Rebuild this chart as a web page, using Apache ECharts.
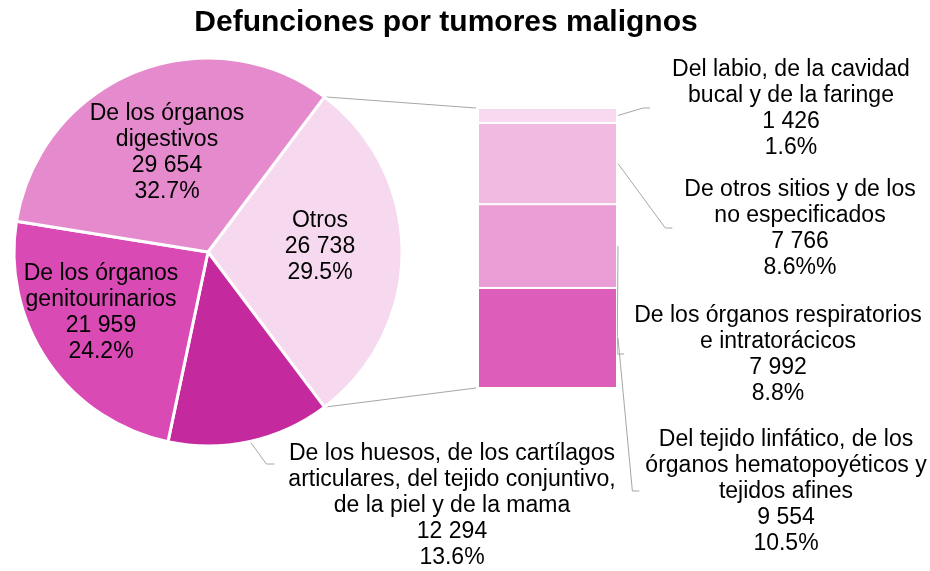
<!DOCTYPE html>
<html>
<head>
<meta charset="utf-8">
<script src="https://cdn.jsdelivr.net/npm/echarts@6/dist/echarts.min.js"></script>
<style>
html, body { margin: 0; padding: 0; background: #fff; }
#main { width: 930px; height: 571px; }
</style>
</head>
<body>
<div id="main"></div>
<script>
// pie: Otros first so it sits centred on the right side
var pieNames = ['Otros',
  'De los huesos, de los cartílagos\narticulares, del tejido conjuntivo,\nde la piel y de la mama',
  'De los órganos\ngenitourinarios',
  'De los órganos\ndigestivos'];
var pieValues = [26738, 12294, 21959, 29654];
var piePct = ['29.5%', '13.6%', '24.2%', '32.7%'];
var pieColors = ['#F7D9EF', '#C42A9D', '#D94AB4', '#E58BCD'];

// stacked bar breakdown of "Otros", bottom to top
var barNames = ['Del tejido linfático, de los\nórganos hematopoyéticos y\ntejidos afines',
  'De los órganos respiratorios\ne intratorácicos',
  'De otros sitios y de los\nno especificados',
  'Del labio, de la cavidad\nbucal y de la faringe'];
var barValues = [9554, 7992, 7766, 1426];
var barPct = ['10.5%', '8.8%', '8.6%%', '1.6%'];
var barColors = ['#DD5DBB', '#EA9DD5', '#F1BAE1', '#F8DAF0'];

// layout
var pieCenter = [208, 252], pieRadius = 194;
var pieLabelPos = [[320, 247], [452, 506], [101, 313], [167, 153]];
var barBox = { left: 478, top: 108, width: 139, height: 280 };
var barLabelPos = [[786, 492], [778, 355], [800, 229], [791, 109]];
var barLeaderGap = [6, 10, 12, 22];
var FONT = '"Liberation Sans", Arial, sans-serif';
var FS = 23, LH = 26;
var lineColor = '#A6A6A6';

function fmt(v) { return String(v).replace(/\B(?=(\d{3})+(?!\d))/g, ' '); }

var chart = echarts.init(document.getElementById('main'));
var pieTotal = pieValues.reduce(function (a, b) { return a + b; }, 0);
var barTotal = barValues.reduce(function (a, b) { return a + b; }, 0);
var halfAngle = pieValues[0] / pieTotal * 180;
var barLabelW = [];

var series = [];
for (var i = 0; i < barValues.length; i++) {
  (function (k) {
    series.push({
      type: 'bar',
      stack: 'otros',
      data: [barValues[k]],
      barWidth: '100%',
      itemStyle: { color: barColors[k], borderColor: '#fff', borderWidth: 1 },
      label: {
        show: true,
        position: 'right',
        formatter: barNames[k] + '\n' + fmt(barValues[k]) + '\n' + barPct[k],
        color: '#000',
        fontFamily: FONT,
        fontSize: FS,
        lineHeight: LH,
        align: 'center'
      },
      labelLine: { show: false },
      labelLayout: function (params) {
        barLabelW[k] = params.labelRect.width;
        return { x: barLabelPos[k][0], y: barLabelPos[k][1], align: 'center', verticalAlign: 'middle' };
      },
      emphasis: { disabled: true }
    });
  })(i);
}

var pieData = pieValues.map(function (v, k) {
  var d = { name: pieNames[k], value: v, itemStyle: { color: pieColors[k] } };
  if (k === 1) {
    d.label = { position: 'outside' };
    d.labelLine = { show: true, lineStyle: { color: lineColor, width: 1 } };
  }
  return d;
});

series.push({
  type: 'pie',
  center: pieCenter,
  radius: pieRadius,
  startAngle: halfAngle,
  clockwise: true,
  avoidLabelOverlap: false,
  data: pieData,
  itemStyle: { borderColor: '#fff', borderWidth: 3 },
  label: {
    show: true,
    position: 'inside',
    formatter: function (p) { return p.name + '\n' + fmt(p.value) + '\n' + piePct[p.dataIndex]; },
    color: '#000',
    fontFamily: FONT,
    fontSize: FS,
    lineHeight: LH,
    align: 'center'
  },
  labelLine: { show: false },
  labelLayout: function (params) {
    var k = params.dataIndex;
    var res = { x: pieLabelPos[k][0], y: pieLabelPos[k][1], align: 'center', verticalAlign: 'middle' };
    if (k === 1 && params.labelLinePoints) {
      var w = params.labelRect.width, h = params.labelRect.height;
      var left = pieLabelPos[k][0] - w / 2, top = pieLabelPos[k][1] - h / 2;
      var endY = top + 23;
      res.labelLinePoints = [params.labelLinePoints[0], [left - 22, endY], [left - 14, endY]];
    }
    return res;
  },
  emphasis: { disabled: true },
  animation: false
});

var option = {
  animation: false,
  title: {
    text: 'Defunciones por tumores malignos',
    left: 446,
    top: 8,
    textAlign: 'center',
    padding: 0,
    textStyle: { fontFamily: FONT, fontSize: 30, fontWeight: 'bold', color: '#000' }
  },
  grid: { left: barBox.left, top: barBox.top, width: barBox.width, height: barBox.height },
  xAxis: { type: 'category', data: [''], show: false },
  yAxis: { type: 'value', min: 0, max: barTotal, show: false },
  series: series
};
chart.setOption(option);

// connector and leader lines, from the pie geometry and the bar scale
var rad = halfAngle * Math.PI / 180;
var pieTop = [pieCenter[0] + pieRadius * Math.cos(rad), pieCenter[1] - pieRadius * Math.sin(rad)];
var pieBot = [pieCenter[0] + pieRadius * Math.cos(rad), pieCenter[1] + pieRadius * Math.sin(rad)];
var xc = chart.convertToPixel({ xAxisIndex: 0 }, 0);
var barLeft = xc - barBox.width / 2, barRight = xc + barBox.width / 2;
var yTop = chart.convertToPixel({ yAxisIndex: 0 }, barTotal);
var yBot = chart.convertToPixel({ yAxisIndex: 0 }, 0);

var graphics = [
  { type: 'polyline', shape: { points: [pieTop, [barLeft - 2, yTop]] } },
  { type: 'polyline', shape: { points: [pieBot, [barLeft - 2, yBot]] } }
];
var cum = 0;
for (var j = 0; j < barValues.length; j++) {
  var midY = chart.convertToPixel({ yAxisIndex: 0 }, cum + barValues[j] / 2);
  cum += barValues[j];
  var endX = barLabelPos[j][0] - (barLabelW[j] || 0) / 2 - barLeaderGap[j];
  var endY = barLabelPos[j][1] - 1;
  graphics.push({ type: 'polyline', shape: { points: [[barRight + 1, midY], [endX - 7, endY], [endX, endY]] } });
}
graphics.forEach(function (g) {
  g.silent = true;
  g.style = { stroke: lineColor, lineWidth: 1, fill: null };
});
chart.setOption({ graphic: graphics });
</script>
</body>
</html>
